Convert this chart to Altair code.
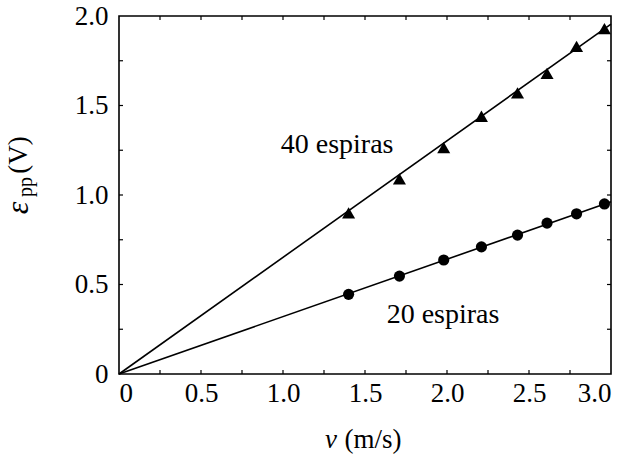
import altair as alt
import pandas as pd

# Data
v40 = [1.40, 1.71, 1.98, 2.21, 2.43, 2.61, 2.79, 2.96]
e40 = [0.90, 1.09, 1.265, 1.44, 1.57, 1.68, 1.83, 1.93]
v20 = [1.40, 1.71, 1.98, 2.21, 2.43, 2.61, 2.79, 2.96]
e20 = [0.445, 0.547, 0.637, 0.71, 0.776, 0.843, 0.895, 0.95]
fit_v = [0.0, 3.0]
fit_e40 = [0.0, 1.955]
fit_e20 = [0.0, 0.962]
x_ticks = [0.25, 0.5, 0.75, 1.0, 1.25, 1.5, 1.75, 2.0, 2.25, 2.5, 2.75]
y_ticks = [0.25, 0.5, 0.75, 1.0, 1.25, 1.5, 1.75]
label_text = ["40 espiras", "20 espiras"]
label_v = [1.33, 1.976]
label_e = [1.235, 0.285]

FONT = "Liberation Serif"
W, H = 492, 358

pts40 = pd.DataFrame({"v": v40, "e": e40})
pts20 = pd.DataFrame({"v": v20, "e": e20})
fits = pd.DataFrame({
    "v": fit_v + fit_v,
    "e": fit_e40 + fit_e20,
    "s": ["40"] * 2 + ["20"] * 2,
})
labels = pd.DataFrame({"t": label_text, "v": label_v, "e": label_e})
xt = pd.DataFrame({"v": x_ticks})
yt = pd.DataFrame({"e": y_ticks})

xscale = alt.Scale(domain=[0, 3.0], nice=False, zero=False)
yscale = alt.Scale(domain=[0, 2.0], nice=False, zero=False)

label_expr = "datum.value == 0 ? '0' : format(datum.value, '.1f')"

xaxis = alt.Axis(
    values=[0, 0.5, 1.0, 1.5, 2.0, 2.5, 3.0], labelExpr=label_expr, ticks=False,
    grid=False, title=None, labelFont=FONT, labelFontSize=27, labelColor="black",
    labelPadding=6, domain=False,
)
yaxis = alt.Axis(
    values=[0, 0.5, 1.0, 1.5, 2.0], labelExpr=label_expr, ticks=False,
    grid=False, title=None, labelFont=FONT, labelFontSize=27, labelColor="black",
    labelPadding=11, domain=False,
)

X = alt.X("v:Q", scale=xscale, axis=xaxis)
Y = alt.Y("e:Q", scale=yscale, axis=yaxis)

lines = alt.Chart(fits).mark_line(color="black", strokeWidth=1.6).encode(
    x=X, y=Y, detail="s:N"
)
tri = alt.Chart(pts40).mark_point(
    shape="triangle-up", filled=True, color="black", size=170, opacity=1
).encode(x=X, y=Y)
circ = alt.Chart(pts20).mark_point(
    shape="circle", filled=True, color="black", size=125, opacity=1
).encode(x=X, y=Y)

ann = alt.Chart(labels).mark_text(
    font=FONT, fontSize=28, color="black", align="center", baseline="alphabetic"
).encode(x=alt.X("v:Q", scale=xscale), y=alt.Y("e:Q", scale=yscale), text="t:N")

TL = 4
tick_b = alt.Chart(xt).mark_rule(color="black", strokeWidth=1.2).encode(
    x=alt.X("v:Q", scale=xscale), y=alt.value(H), y2=alt.value(H - TL))
tick_t = alt.Chart(xt).mark_rule(color="black", strokeWidth=1.2).encode(
    x=alt.X("v:Q", scale=xscale), y=alt.value(0), y2=alt.value(TL))
tick_l = alt.Chart(yt).mark_rule(color="black", strokeWidth=1.2).encode(
    y=alt.Y("e:Q", scale=yscale), x=alt.value(0), x2=alt.value(TL))
tick_r = alt.Chart(yt).mark_rule(color="black", strokeWidth=1.2).encode(
    y=alt.Y("e:Q", scale=yscale), x=alt.value(W), x2=alt.value(W - TL))

one = pd.DataFrame({"a": [0]})
eps = alt.Chart(one).mark_text(
    text="ε", font=FONT, fontStyle="italic", fontSize=32, color="black",
    angle=270, align="center", baseline="middle"
).encode(x=alt.value(-101), y=alt.value(192))
pp = alt.Chart(one).mark_text(
    text="pp", font=FONT, fontSize=20, color="black",
    angle=270, align="center", baseline="middle"
).encode(x=alt.value(-93), y=alt.value(171))
volt = alt.Chart(one).mark_text(
    text="(V)", font=FONT, fontSize=27, color="black",
    angle=270, align="center", baseline="middle"
).encode(x=alt.value(-100), y=alt.value(139))
vlab = alt.Chart(one).mark_text(
    text="v", font=FONT, fontStyle="italic", fontSize=27, color="black",
    align="center", baseline="middle"
).encode(x=alt.value(212), y=alt.value(424))
mslab = alt.Chart(one).mark_text(
    text="(m/s)", font=FONT, fontSize=27, color="black",
    align="center", baseline="middle"
).encode(x=alt.value(254), y=alt.value(424))

chart = alt.layer(
    lines, tri, circ, ann, tick_b, tick_t, tick_l, tick_r,
    eps, pp, volt, vlab, mslab
).properties(
    width=W, height=H,
    autosize=alt.AutoSizeParams(type="none"),
    padding={"left": 119, "top": 16, "right": 19, "bottom": 94},
    background="white",
).configure_view(stroke="black", strokeWidth=1.6)

chart.save("out.html", embed_options={"renderer": "svg", "actions": False})
